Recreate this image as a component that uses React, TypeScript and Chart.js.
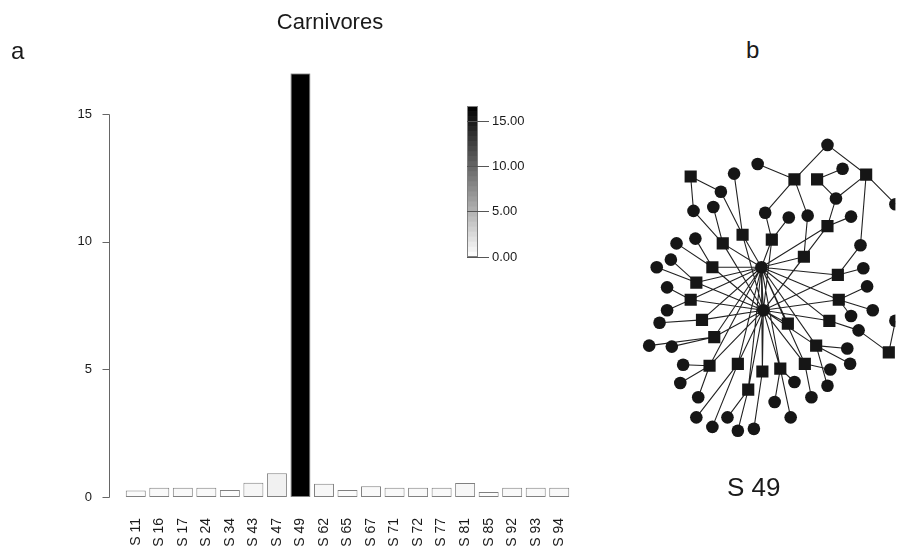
import React, { useEffect, useRef } from "react";
import { Chart, registerables } from "chart.js";

Chart.register(...registerables);

// ---------- Panel a data ----------
const categories = ["S 11", "S 16", "S 17", "S 24", "S 34", "S 43", "S 47", "S 49", "S 62", "S 65", "S 67", "S 71", "S 72", "S 77", "S 81", "S 85", "S 92", "S 93", "S 94"];
const values = [0.25, 0.36, 0.36, 0.36, 0.27, 0.56, 0.93, 16.6, 0.52, 0.27, 0.42, 0.36, 0.36, 0.36, 0.55, 0.2, 0.36, 0.36, 0.36];
const yTicks = [0, 5, 10, 15];
const legendTicks = [0, 5, 10, 15];
const legendMax = 16.6;
const chartTitle = "Carnivores";

// ---------- Panel b data (network of S 49) ----------
const nodeIds = [
  "H1", "H2",
  "q0", "q1", "q2", "q3", "q4", "q5", "q6", "q7", "q8", "q9", "q10", "q11", "q12", "q13", "q14", "q15", "q16", "q17", "q18", "q19", "q20", "q21", "q22", "q23", "q24", "q25",
  "c0", "c1", "c2", "c3", "c4", "c5", "c6", "c7", "c8", "c9", "c10", "c11", "c12", "c13", "c14", "c15", "c16", "c17", "c18", "c19", "c20", "c21", "c22", "c23", "c24", "c25", "c26", "c27", "c28", "c29", "c30", "c31", "c32", "c33", "c34", "c35", "c36", "c37", "c38", "c39", "c40", "c41", "c42", "c43", "c44",
];
const nodeX = [
  762, 764,
  687, 797, 821, 873, 832, 742, 773, 721, 807, 710, 843, 693, 687, 844, 699, 790, 834, 712, 820, 897, 707, 737, 763, 782, 808, 748,
  832, 758, 848, 904, 733, 719, 841, 690, 711, 766, 791, 811, 857, 692, 672, 867, 666, 651, 870, 662, 874, 662, 857, 880, 654, 865, 904, 643, 667, 853, 679, 856, 835, 676, 797, 832, 695, 776, 815, 693, 726, 793, 710, 737, 754,
];
const nodeY = [
  266, 311,
  171, 174, 174, 169, 223, 232, 237, 241, 255, 266, 274, 282, 300, 300, 321, 325, 322, 339, 348, 355, 369, 367, 375, 372, 367, 394,
  138, 158, 163, 200, 168, 187, 194, 207, 203, 209, 214, 212, 213, 236, 241, 243, 258, 266, 267, 287, 286, 311, 317, 311, 324, 332, 322, 348, 349, 351, 368, 367, 373, 387, 386, 390, 402, 407, 402, 423, 423, 423, 433, 437, 435,
];
const edgeFrom = [
  "H1",
  "H1", "H1", "H1", "H1", "H1", "H1", "H1", "H1", "H1", "H1", "H1", "H1", "H1", "H1", "H1", "H1", "H1", "H1", "H1", "H1", "H1",
  "H2", "H2", "H2", "H2", "H2", "H2", "H2", "H2", "H2", "H2", "H2", "H2", "H2", "H2", "H2", "H2", "H2", "H2", "H2", "H2", "H2",
  "c0", "c0", "c1", "q1", "q1", "q2", "q2", "q3", "q3", "q3", "c6", "q4", "q0", "q0", "c4", "c5", "c7", "c8", "c9", "c10", "c11", "c13", "c14", "c16", "c17", "c19", "c21", "c24", "c27", "c28", "c15", "c18", "c20", "c22", "c23", "c25", "c25", "q19", "c29", "c31", "c35", "c30", "c33", "c36", "c39", "c42", "c40", "c43", "c44", "c37", "c41", "c34", "c32", "c38",
];
const edgeTo = [
  "H2",
  "q4", "q5", "q6", "q7", "q8", "q9", "q10", "q11", "q12", "q13", "q14", "q15", "q16", "q17", "q18", "q20", "q21", "q22", "q23", "q24", "q25",
  "q4", "q5", "q6", "q7", "q8", "q9", "q10", "q11", "q12", "q13", "q14", "q15", "q16", "q17", "q18", "q20", "q21", "q22", "q23", "q24", "q25",
  "q1", "q3", "q1", "c9", "c11", "c2", "c6", "c6", "c3", "c15", "q4", "c12", "c5", "c7", "q5", "q5", "q7", "q7", "q6", "q6", "q8", "q9", "q9", "q11", "q11", "q12", "q12", "q14", "q17", "q17", "q10", "q10", "q13", "q13", "q13", "q16", "q19", "c26", "q18", "q18", "q18", "q20", "q20", "q20", "q21", "q21", "q25", "q25", "q22", "q23", "q23", "q23", "q24", "q24",
];

const FONT = '"Liberation Sans", Arial, Helvetica, sans-serif';
const INK = "#1a1a1a";

function grayFor(v: number): string {
  const g = Math.round(255 * (1 - Math.min(v, legendMax) / legendMax));
  return `rgb(${g},${g},${g})`;
}

// Center the title over the R-style plot region (x 89..571)
const titlePlacePlugin = {
  id: "titlePlace",
  afterLayout(chart: any) {
    const tb = chart.titleBlock;
    if (tb) {
      tb.left = 89;
      tb.right = 571;
    }
  },
};

const rAxisPlugin = {
  id: "rAxis",
  afterDraw(chart: any) {
    const ys = chart.scales.y;
    const ctx = chart.ctx;
    const x = 109.5;
    ctx.save();
    ctx.strokeStyle = "#666";
    ctx.lineWidth = 1;
    ctx.beginPath();
    ctx.moveTo(x, Math.round(ys.getPixelForValue(yTicks[0])) + 0.5);
    ctx.lineTo(x, Math.round(ys.getPixelForValue(yTicks[yTicks.length - 1])) + 0.5);
    yTicks.forEach((t) => {
      const y = Math.round(ys.getPixelForValue(t)) + 0.5;
      ctx.moveTo(x - 7, y);
      ctx.lineTo(x, y);
    });
    ctx.stroke();
    ctx.restore();
  },
};

const colorKeyPlugin = {
  id: "colorKey",
  afterDraw(chart: any) {
    const ctx = chart.ctx;
    const x0 = 467, x1 = 478, yTop = 106.5, yBot = 256.5;
    const n = 30;
    const h = (yBot - yTop) / n;
    ctx.save();
    for (let i = 0; i < n; i++) {
      const v = ((i + 0.5) / n) * legendMax;
      ctx.fillStyle = grayFor(v);
      ctx.fillRect(x0, yBot - (i + 1) * h - 0.3, x1 - x0, h + 0.6);
    }
    ctx.strokeStyle = "#808080";
    ctx.lineWidth = 1;
    ctx.strokeRect(x0 + 0.5, yTop, x1 - x0 - 1, yBot - yTop);
    ctx.strokeStyle = "#555";
    ctx.fillStyle = INK;
    ctx.font = `13px ${FONT}`;
    ctx.textAlign = "left";
    ctx.textBaseline = "middle";
    legendTicks.forEach((t) => {
      const y = Math.round(yBot - (t / legendMax) * (yBot - yTop)) + 0.5;
      ctx.beginPath();
      ctx.moveTo(x0, y);
      ctx.lineTo(489, y);
      ctx.stroke();
      ctx.fillText(t.toFixed(2), 492, y);
    });
    ctx.restore();
  },
};

export default function App() {
  const barRef = useRef<HTMLCanvasElement>(null);
  const netRef = useRef<HTMLCanvasElement>(null);

  useEffect(() => {
    Chart.defaults.font.family = FONT;
    Chart.defaults.color = INK;

    const bar = new Chart(barRef.current as HTMLCanvasElement, {
      type: "bar",
      data: {
        labels: categories,
        datasets: [
          {
            data: values,
            backgroundColor: values.map(grayFor),
            borderColor: "#808080",
            borderWidth: 1,
            borderSkipped: false,
            barPercentage: 0.85,
            categoryPercentage: 1,
          },
        ],
      },
      options: {
        responsive: false,
        animation: false,
        layout: { padding: { left: 50, right: 29, top: 0, bottom: 0 } },
        plugins: {
          legend: { display: false },
          tooltip: { enabled: false },
          title: {
            display: true,
            text: chartTitle,
            color: INK,
            font: { size: 22, weight: "normal" },
            padding: { top: 9.6, bottom: 37.2 },
          },
        },
        scales: {
          x: {
            grid: { display: false, drawTicks: false },
            border: { display: false },
            ticks: { minRotation: 90, maxRotation: 90, autoSkip: false, padding: 21, color: INK, font: { size: 14 } },
            afterFit: (s: any) => {
              s.height = 51;
            },
          },
          y: {
            min: 0,
            max: legendMax,
            grid: { display: false, drawTicks: false },
            border: { display: false },
            ticks: { padding: 32, color: INK, font: { size: 13 } },
            afterBuildTicks: (s: any) => {
              s.ticks = yTicks.map((v) => ({ value: v }));
            },
            afterFit: (s: any) => {
              s.width = 74;
            },
          },
        },
      } as any,
      plugins: [titlePlacePlugin, rAxisPlugin, colorKeyPlugin],
    });

    const pos = (id: string) => {
      const i = nodeIds.indexOf(id);
      return { x: nodeX[i], y: nodeY[i] };
    };
    const edgeData: any[] = [];
    edgeFrom.forEach((f, i) => {
      edgeData.push(pos(f), pos(edgeTo[i]), { x: NaN, y: NaN });
    });
    const circles = nodeIds.filter((id) => id[0] !== "q").map(pos);
    const squares = nodeIds.filter((id) => id[0] === "q").map(pos);

    const net = new Chart(netRef.current as HTMLCanvasElement, {
      type: "scatter",
      data: {
        datasets: [
          {
            type: "line",
            data: edgeData,
            borderColor: "#222",
            borderWidth: 1.1,
            pointRadius: 0,
            spanGaps: false,
            tension: 0,
            order: 2,
          } as any,
          {
            data: circles,
            pointStyle: "circle",
            pointRadius: 6.3,
            backgroundColor: "#161616",
            borderWidth: 0,
            order: 1,
          },
          {
            data: squares,
            pointStyle: "rect",
            pointRadius: 8.6,
            backgroundColor: "#161616",
            borderWidth: 0,
            order: 1,
          },
        ],
      },
      options: {
        responsive: false,
        animation: false,
        layout: { padding: 0 },
        plugins: { legend: { display: false }, tooltip: { enabled: false } },
        scales: {
          x: { type: "linear", min: 600, max: 904, display: false },
          y: { type: "linear", min: 100, max: 490, reverse: true, display: false },
        },
      } as any,
    });

    return () => {
      bar.destroy();
      net.destroy();
    };
  }, []);

  const label = (text: string, left: number, top: number, size: number) => (
    <div
      style={{
        position: "absolute",
        left,
        top,
        fontFamily: FONT,
        fontSize: size,
        lineHeight: `${size}px`,
        color: INK,
        whiteSpace: "nowrap",
      }}
    >
      {text}
    </div>
  );

  return (
    <div style={{ position: "absolute", left: 0, top: 0, width: 904, height: 548, background: "#fff", overflow: "hidden" }}>
      <canvas ref={barRef} width={600} height={548} style={{ position: "absolute", left: 0, top: 0 }} />
      <canvas ref={netRef} width={304} height={390} style={{ position: "absolute", left: 600, top: 100 }} />
      {label("a", 11, 38.7, 24)}
      {label("b", 746, 37.7, 24)}
      {label("S 49", 727, 474, 26)}
    </div>
  );
}
